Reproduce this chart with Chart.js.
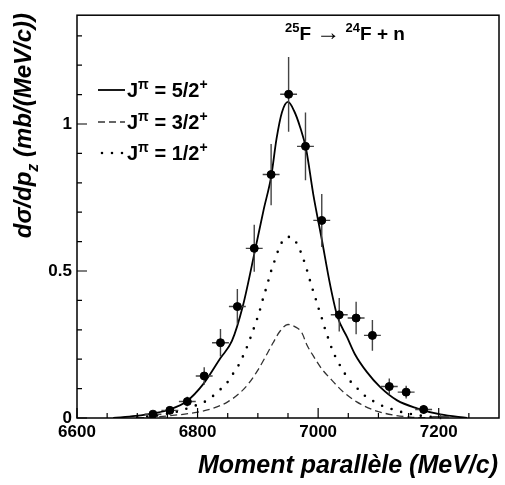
<!DOCTYPE html>
<html>
<head>
<meta charset="utf-8">
<script src="https://cdn.jsdelivr.net/npm/chart.js@4.4.0/dist/chart.umd.min.js"></script>
<style>
  body { margin: 0; background: #fff; }
  #wrap { width: 505px; height: 485px; }
</style>
</head>
<body>
<div id="wrap"><canvas id="chart" width="505" height="485"></canvas></div>
<script>
// measured cross sections (bins of ~28 MeV/c)
const pointX = [6726, 6754, 6783, 6811, 6838, 6866, 6894, 6922, 6951, 6979, 7006, 7035, 7063, 7090, 7118, 7146, 7175, 7203];
const pointY = [0.013, 0.026, 0.056, 0.143, 0.256, 0.379, 0.577, 0.828, 1.101, 0.924, 0.672, 0.351, 0.340, 0.281, 0.107, 0.088, 0.029, 0.004];
const pointErr = [0.007, 0.01, 0.016, 0.03, 0.047, 0.06, 0.08, 0.104, 0.127, 0.115, 0.09, 0.057, 0.055, 0.052, 0.027, 0.022, 0.015, 0.008];
const binHalfWidth = 14;

// calculated momentum distributions
const curve52X = [6660, 6697, 6727, 6754, 6782, 6810, 6838, 6857, 6875, 6896, 6910, 6922, 6931, 6940, 6950, 6960, 6970, 6980, 6992, 7006, 7020, 7032, 7048, 7061, 7081, 7103, 7131, 7164, 7203, 7247];
const curve52Y = [0, 0.007, 0.016, 0.029, 0.057, 0.117, 0.204, 0.262, 0.38, 0.577, 0.712, 0.82, 0.95, 1.04, 1.075, 1.045, 0.99, 0.915, 0.76, 0.608, 0.452, 0.345, 0.275, 0.217, 0.156, 0.105, 0.06, 0.033, 0.012, 0];

const curve32X = [6700, 6750, 6800, 6826, 6850, 6870, 6885, 6900, 6912, 6925, 6937, 6950, 6962, 6973, 6981, 6992, 7006, 7023, 7042, 7064, 7092, 7125, 7153, 7190];
const curve32Y = [0, 0.007, 0.02, 0.033, 0.055, 0.085, 0.118, 0.163, 0.206, 0.255, 0.296, 0.318, 0.31, 0.29, 0.25, 0.211, 0.167, 0.128, 0.088, 0.055, 0.027, 0.01, 0.003, 0];

const curve12X = [6700, 6737, 6752, 6773, 6789, 6807, 6822, 6836, 6849, 6859, 6869, 6877, 6884, 6890, 6896, 6902, 6907, 6912, 6917, 6922, 6928, 6934, 6942, 6950, 6957, 6967, 6974, 6980, 6985, 6990, 6996, 7001, 7007, 7012, 7018, 7024, 7032, 7041, 7051, 7063, 7075, 7091, 7107, 7124, 7143, 7161, 7178, 7200];
const curve12Y = [0.002, 0.01, 0.016, 0.025, 0.038, 0.05, 0.069, 0.094, 0.12, 0.151, 0.183, 0.218, 0.252, 0.286, 0.321, 0.357, 0.395, 0.429, 0.464, 0.5, 0.536, 0.571, 0.605, 0.616, 0.614, 0.584, 0.549, 0.513, 0.478, 0.443, 0.405, 0.371, 0.334, 0.299, 0.264, 0.229, 0.195, 0.162, 0.131, 0.105, 0.08, 0.058, 0.041, 0.029, 0.018, 0.011, 0.006, 0.002];

// axis ticks
const xTickLabels = [6600, 6800, 7000, 7200];
const xMinorTicks = [6650, 6700, 6750, 6850, 6900, 6950, 7050, 7100, 7150, 7250];
const yTickLabels = [0, 0.5, 1];
const yMinorTicks = [0.1, 0.2, 0.3, 0.4, 0.6, 0.7, 0.8, 0.9, 1.1, 1.2, 1.3];

const FONT = '"Liberation Sans", Arial, sans-serif';

function toXY(xs, ys) {
    return xs.map((x, i) => ({ x: x, y: ys[i] }));
}

// draw text made of pieces, some raised or lowered
function drawRich(ctx, x, y, parts, size, italic) {
    parts.forEach(p => {
        let s = p.size || ((p.sup || p.sub) ? Math.round(size * 0.68) : size);
        ctx.font = (italic ? 'italic ' : '') + 'bold ' + s + 'px ' + FONT;
        let dy = p.sup ? -size * 0.42 : (p.sub ? size * 0.28 : 0);
        ctx.fillText(p.t, x, y + dy);
        x += ctx.measureText(p.t).width;
    });
    return x;
}

function richWidth(ctx, parts, size, italic) {
    let w = 0;
    parts.forEach(p => {
        let s = p.size || ((p.sup || p.sub) ? Math.round(size * 0.68) : size);
        ctx.font = (italic ? 'italic ' : '') + 'bold ' + s + 'px ' + FONT;
        w += ctx.measureText(p.t).width;
    });
    return w;
}

const errorBars = {
    id: 'errorBars',
    beforeDatasetDraw(chart, args) {
        if (args.index !== 0) return;
        const ctx = chart.ctx, xs = chart.scales.x, ys = chart.scales.y;
        ctx.save();
        ctx.strokeStyle = '#444';
        ctx.lineWidth = 1.4;
        ctx.beginPath();
        pointX.forEach((x, i) => {
            const px = xs.getPixelForValue(x), py = ys.getPixelForValue(pointY[i]);
            ctx.moveTo(px, ys.getPixelForValue(pointY[i] - pointErr[i]));
            ctx.lineTo(px, ys.getPixelForValue(pointY[i] + pointErr[i]));
            ctx.moveTo(xs.getPixelForValue(x - binHalfWidth), py);
            ctx.lineTo(xs.getPixelForValue(x + binHalfWidth), py);
        });
        ctx.stroke();
        ctx.restore();
    }
};

const frameAndText = {
    id: 'frameAndText',
    afterDraw(chart) {
        const ctx = chart.ctx, a = chart.chartArea, xs = chart.scales.x, ys = chart.scales.y;
        ctx.save();
        ctx.strokeStyle = '#000';
        ctx.lineWidth = 1.5;
        ctx.strokeRect(a.left, a.top, a.right - a.left, a.bottom - a.top);

        // ticks point into the plot
        ctx.lineWidth = 1.2;
        ctx.beginPath();
        xTickLabels.forEach(v => { const p = xs.getPixelForValue(v); ctx.moveTo(p, a.bottom); ctx.lineTo(p, a.bottom - 10); });
        xMinorTicks.forEach(v => { const p = xs.getPixelForValue(v); ctx.moveTo(p, a.bottom); ctx.lineTo(p, a.bottom - 5); });
        yTickLabels.forEach(v => { const p = ys.getPixelForValue(v); ctx.moveTo(a.left, p); ctx.lineTo(a.left + 10, p); });
        yMinorTicks.forEach(v => { const p = ys.getPixelForValue(v); ctx.moveTo(a.left, p); ctx.lineTo(a.left + 5, p); });
        ctx.stroke();

        ctx.fillStyle = '#000';
        ctx.textBaseline = 'alphabetic';
        ctx.textAlign = 'left';

        // reaction
        drawRich(ctx, 285, 40, [
            { t: '25', sup: true }, { t: 'F ' }, { t: '\u2192', size: 24 }, { t: ' ' },
            { t: '24', sup: true }, { t: 'F + n' }
        ], 19, false);

        // legend
        const legend = [
            { y: 90, dash: [], width: 1.8, cap: 'butt', color: '#000', spin: '5/2' },
            { y: 122, dash: [7, 4], width: 1.3, cap: 'butt', color: '#333', spin: '3/2' },
            { y: 153, dash: [0, 10], width: 2.6, cap: 'round', color: '#000', spin: '1/2' }
        ];
        legend.forEach(l => {
            ctx.save();
            ctx.strokeStyle = l.color;
            ctx.lineWidth = l.width;
            ctx.lineCap = l.cap;
            ctx.setLineDash(l.dash);
            ctx.beginPath();
            ctx.moveTo(l.dash.length && l.dash[0] === 0 ? 102 : 98, l.y);
            ctx.lineTo(125, l.y);
            ctx.stroke();
            ctx.restore();
            drawRich(ctx, 127, l.y + 7, [
                { t: 'J' }, { t: '\u03c0', sup: true }, { t: ' = ' + l.spin }, { t: '+', sup: true }
            ], 20, false);
        });

        // y title, rotated
        const yParts = [{ t: 'd\u03c3/dp' }, { t: 'z', sub: true }, { t: ' (mb/(MeV/c))' }];
        const yw = richWidth(ctx, yParts, 24, true);
        ctx.save();
        ctx.translate(31, 13 + yw);
        ctx.rotate(-Math.PI / 2);
        drawRich(ctx, 0, 0, yParts, 24, true);
        ctx.restore();

        // x title
        ctx.font = 'italic bold 25px ' + FONT;
        ctx.textAlign = 'right';
        ctx.fillText('Moment parall\u00e8le (MeV/c)', 498, 473);
        ctx.restore();
    }
};

new Chart(document.getElementById('chart'), {
    type: 'scatter',
    data: {
        datasets: [
            {
                label: 'data',
                data: toXY(pointX, pointY),
                backgroundColor: '#000',
                borderColor: '#000',
                pointRadius: pointY.map(v => v < 0.01 ? 0 : 4),
                order: 0
            },
            {
                type: 'line',
                label: '5/2+',
                data: toXY(curve52X, curve52Y),
                borderColor: '#000',
                borderWidth: 1.8,
                pointRadius: 0,
                cubicInterpolationMode: 'monotone',
                order: 1
            },
            {
                type: 'line',
                label: '3/2+',
                data: toXY(curve32X, curve32Y),
                borderColor: '#333',
                borderWidth: 1.3,
                borderDash: [7, 4],
                pointRadius: 0,
                cubicInterpolationMode: 'monotone',
                order: 1
            },
            {
                type: 'line',
                label: '1/2+',
                data: toXY(curve12X, curve12Y),
                borderColor: '#000',
                borderWidth: 2.6,
                borderDash: [0, 10],
                borderCapStyle: 'round',
                pointRadius: 0,
                cubicInterpolationMode: 'monotone',
                order: 1
            }
        ]
    },
    options: {
        responsive: false,
        animation: false,
        layout: { padding: { top: 11, right: 6, left: 0, bottom: 0 } },
        plugins: { legend: { display: false }, tooltip: { enabled: false } },
        scales: {
            x: {
                type: 'linear',
                min: 6600,
                max: 7300,
                grid: { display: false, drawTicks: false },
                border: { display: false },
                afterBuildTicks: s => { s.ticks = xTickLabels.map(v => ({ value: v })); },
                afterFit: s => { s.height = 67; },
                ticks: {
                    color: '#000',
                    padding: 4,
                    maxRotation: 0,
                    autoSkip: false,
                    font: { family: FONT, size: 17, weight: 'bold' },
                    callback: v => String(v)
                }
            },
            y: {
                min: 0,
                max: 1.37,
                grid: { display: false, drawTicks: false },
                border: { display: false },
                afterBuildTicks: s => { s.ticks = yTickLabels.map(v => ({ value: v })); },
                afterFit: s => { s.width = 77; },
                ticks: {
                    color: '#000',
                    padding: 5,
                    font: { family: FONT, size: 17, weight: 'bold' },
                    callback: v => String(v)
                }
            }
        }
    },
    plugins: [errorBars, frameAndText]
});
</script>
</body>
</html>
